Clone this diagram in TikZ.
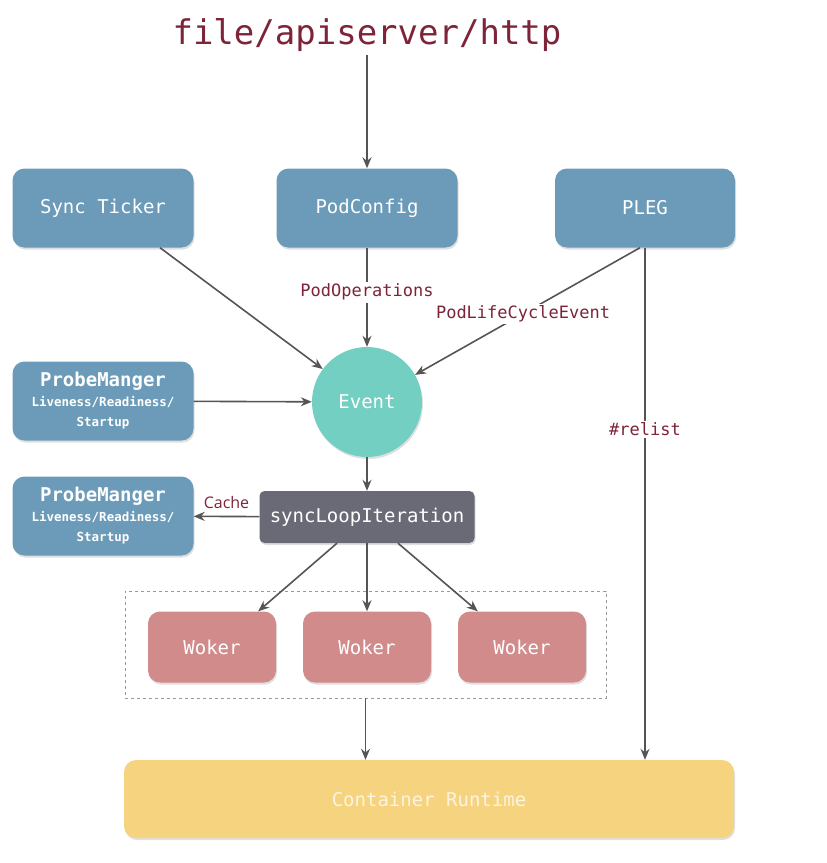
\documentclass[tikz,border=0pt]{standalone}
\usepackage{fontspec}
\setmonofont{DejaVu Sans Mono}
\setsansfont{Open Sans}
\usetikzlibrary{shadows,arrows.meta}
\definecolor{steel}{HTML}{6B9BB8}
\definecolor{teal}{HTML}{72CFC2}
\definecolor{slate}{HTML}{6A6A77}
\definecolor{rosy}{HTML}{D18B8B}
\definecolor{sand}{HTML}{F6D47F}
\definecolor{maroon}{HTML}{7E2438}
\definecolor{wire}{HTML}{555555}
\newcommand{\probesmall}[1]{{\fontsize{12.5}{15}\selectfont\bfseries #1}}

\begin{document}
\begin{tikzpicture}[x=1pt, y=-1pt,
  box/.style={rounded corners=12pt, text=white, align=center,
    font=\ttfamily\fontsize{19}{22}\selectfont,
    drop shadow={shadow xshift=1pt, shadow yshift=-2pt, opacity=0.25}},
  flow/.style={-{Stealth[length=11pt,width=9pt]}, wire, line width=1.6pt},
  tag/.style={text=maroon, fill=white, inner sep=2pt,
    font=\ttfamily\fontsize{17}{20}\selectfont}]
  \useasboundingbox (0,0) rectangle (827,863);

  \node[text=maroon, font=\ttfamily\fontsize{34}{40}\selectfont] (src) at (367,35) {file/apiserver/http};

  \node[box, fill=steel, minimum width=181pt, minimum height=79pt] (tick) at (103,208) {Sync Ticker};
  \node[box, fill=steel, minimum width=181pt, minimum height=79pt] (conf) at (367,208) {PodConfig};
  \node[box, fill=steel, minimum width=180pt, minimum height=79pt] (pleg) at (645,208) {PLEG};

  \node[circle, fill=teal, text=white, minimum size=110pt, font=\ttfamily\fontsize{19}{22}\selectfont,
    drop shadow={shadow xshift=1pt, shadow yshift=-2pt, opacity=0.25}] (ev) at (367,402) {Event};

  \node[box, fill=steel, minimum width=181pt, minimum height=79pt] (probeA) at (103,401)
    {\textbf{ProbeManger}\\[-2pt]\probesmall{Liveness/Readiness/}\\[-2pt]\probesmall{Startup}};
  \node[box, fill=steel, minimum width=181pt, minimum height=79pt] (probeB) at (103,516)
    {\textbf{ProbeManger}\\[-2pt]\probesmall{Liveness/Readiness/}\\[-2pt]\probesmall{Startup}};

  \node[box, fill=slate, rounded corners=5pt, minimum width=215pt, minimum height=52pt] (sync) at (367,517) {syncLoopIteration};

  \node[draw=black!40, dashed, line width=0.8pt, minimum width=481pt, minimum height=107pt] (pool) at (365.5,644.5) {};
  \foreach \n/\x in {wkA/212, wkB/367, wkC/522}
    \node[box, fill=rosy, minimum width=128pt, minimum height=71pt] (\n) at (\x,647) {Woker};

  \node[box, fill=sand, text=sand!25, minimum width=610pt, minimum height=78pt] (cr) at (429,799) {Container Runtime};

  \draw[flow] (src) -- (conf);
  \draw[flow] (conf) -- node[tag, pos=0.45] {PodOperations} (ev);
  \draw[flow] ([xshift=57pt]tick.south) -- (ev);
  \draw[flow] ([xshift=-5pt]pleg.south) -- node[tag, pos=0.52] {PodLifeCycleEvent} (ev);
  \draw[flow] (probeA) -- (ev);
  \draw[flow] (ev) -- (sync);
  \draw[flow] (sync) -- node[above, text=maroon, font=\sffamily\fontsize{16}{19}\selectfont, yshift=4pt] {Cache} (probeB);
  \draw[flow] ([xshift=-30pt]sync.south) -- ([xshift=-18pt]wkA.north east);
  \draw[flow] (sync.south) -- (wkB.north);
  \draw[flow] ([xshift=31pt]sync.south) -- ([xshift=20pt]wkC.north west);
  \draw[flow] (pool.south) -- (pool.south |- cr.north);
  \draw[flow] (pleg.south) -- node[tag, pos=0.355] {\#relist} (pleg.south |- cr.north);
\end{tikzpicture}
\end{document}
